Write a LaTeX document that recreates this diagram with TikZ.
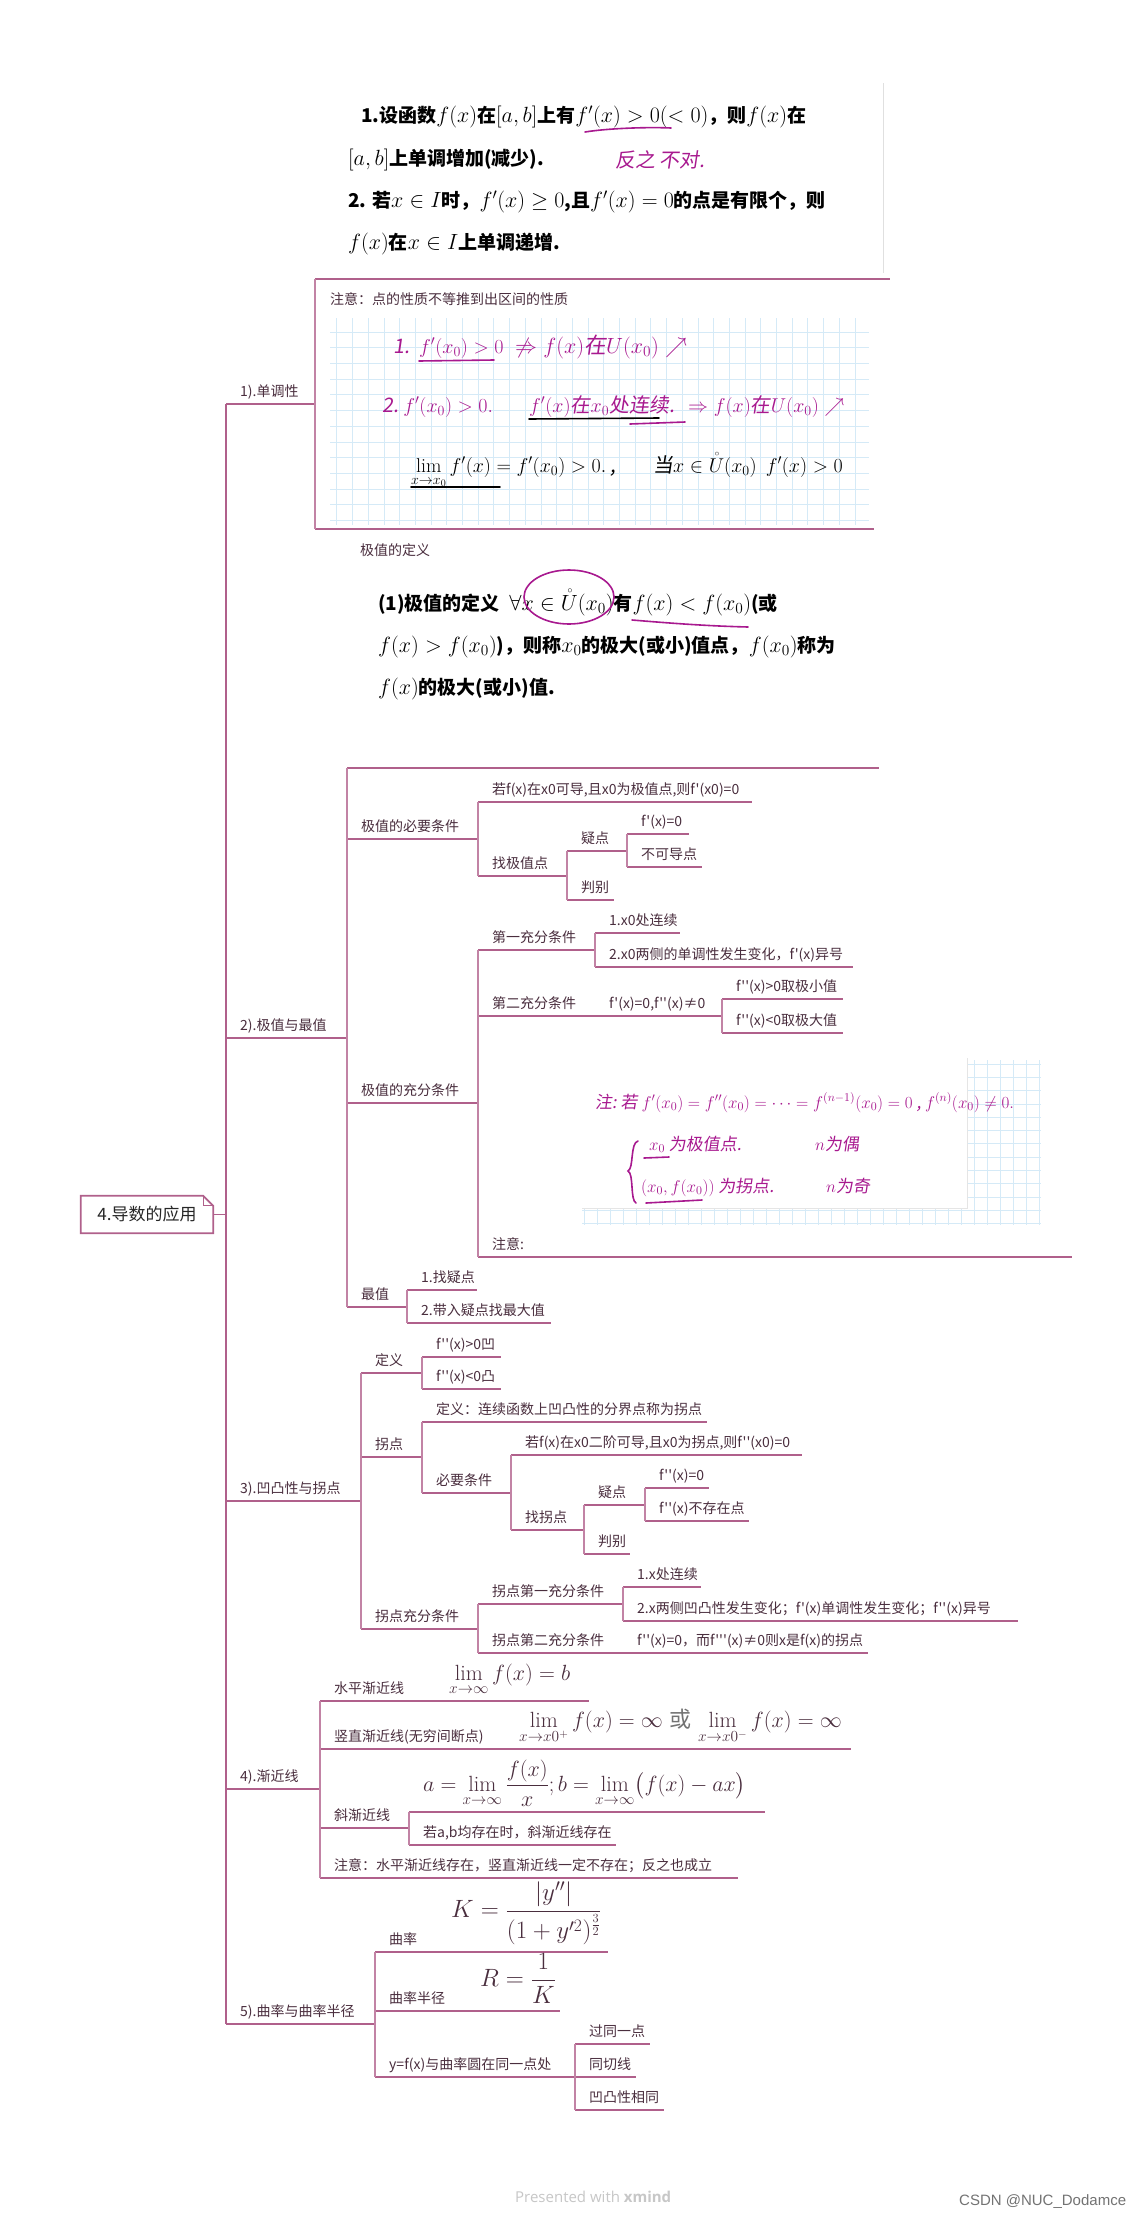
\RequirePackage{fix-cm}
\documentclass[tikz,border=0pt]{standalone}
\usepackage{amsmath,amssymb}
\usepackage{fontspec}
\newfontfamily\zh{Noto Sans CJK SC}
\newfontfamily\hw{Noto Sans CJK SC}[FakeSlant=0.15]
\newfontfamily\ftA{Open Sans}
\newfontfamily\ftB{Liberation Sans}
\definecolor{lncol}{HTML}{B0608B}
\definecolor{cncol}{HTML}{C283A5}
\definecolor{txtcol}{HTML}{4A2E3E}
\definecolor{mag}{HTML}{A8198F}
\definecolor{gridcol}{HTML}{D5EAF7}
\newcommand\M[1]{{\fontsize{22}{26}\selectfont$#1$}}
\newcommand\tp[6][]{%
  \coordinate (#2L) at (#3,#5);
  \coordinate (#2R) at (#4,#5);
  \draw[lnk] (#2L) -- (#2R);
  \node[lbl,#1] (#2) at ([xshift=14pt,yshift=8pt]#2L) {#6};
}
\begin{document}
\begin{tikzpicture}[x=1pt,y=-1pt,
  lnk/.style={draw=lncol,line width=1.7pt},
  conn/.style={draw=cncol,line width=1.7pt},
  lbl/.style={anchor=base west,inner sep=0pt,text=txtcol,font=\zh\fontsize{14}{17}\selectfont},
  fml/.style={anchor=south west,inner sep=0pt,text=txtcol,font=\fontsize{22}{26}\selectfont},
  img/.style={anchor=base west,inner sep=0pt,text=black,font=\zh\bfseries\fontsize{19}{23}\selectfont},
  hand/.style={anchor=base west,inner sep=0pt,text=mag,font=\hw\fontsize{20}{24}\selectfont},
  hl/.style={draw=mag,line width=1.6pt,line cap=round},
  bl/.style={draw=black,line width=1.6pt,line cap=round},
  grd/.style={draw=gridcol,line width=0.8pt},
  rootbox/.style={minimum width=132pt,minimum height=37pt,inner sep=0pt,text=black!85,font=\zh\fontsize{17}{20}\selectfont}]
\fill[white] (0,0) rectangle (1148,2230);
\useasboundingbox (0,0) rectangle (1148,2230);

% root
\node[rootbox] (r) at (147,1214.5) {4.导数的应用};
\draw[lnk] (r.north west) -- ([xshift=-10pt]r.north east) -- ([yshift=-10pt]r.north east) -- (r.south east) -- (r.south west) -- cycle;
\draw[draw=lncol,line width=1pt] ([xshift=-10pt]r.north east) |- ([yshift=-10pt]r.north east);

% ---------- 1) ----------
\tp{t1}{226}{315}{404}{1).单调性}
\coordinate (c11L) at (315,279); \coordinate (c11R) at (890,279);
\draw[lnk] (c11L) -- (c11R);
\draw[draw=black!12,line width=1pt] (883,83) -- (883,273);
\node[img] (i11) at (361,122) {1.设函数\M{f(x)}在\M{[a,b]}上有\M{f'(x)>0(<0)}，则\M{f(x)}在};
\node[img] (i12) at (348,165) {\M{[a,b]}上单调增加(减少).};
\node[img] (i13) at (348,207) {2. 若\M{x\in I}时，\M{f'(x)\geq 0},且\M{f'(x)=0}的点是有限个，则};
\node[img] (i14) at (348,249) {\M{f(x)}在\M{x\in I}上单调递增.};
\draw[hl] (585,132) .. controls (610,128) and (650,127) .. (671,128);
\node[hand] (h11) at (615,167) {反之\ 不对.};

\coordinate (c12L) at (315,529); \coordinate (c12R) at (874,529);
\draw[lnk] (c12L) -- (c12R);
\node[lbl] (n12) at (330,304) {注意：点的性质不等推到出区间的性质};
\foreach \i in {0,...,33} \draw[grd] ({336.8+15.7*\i},318) -- ({336.8+15.7*\i},525);
\foreach \j in {0,...,12} \draw[grd] (330,{332+15.7*\j}) -- (869,{332+15.7*\j});
\node[hand] (h121a) at (393,353) {1.};
\node[hand] (h121b) at (419,353) {$f'(x_0)>0$};
\node[hand,font=\hw\fontsize{22}{26}\selectfont] (h121c) at (515,353) {$\not\Rightarrow f(x)$在$U(x_0)\nearrow$};
\draw[hl] (419,361) -- (494,360);
\node[hand] (h122a) at (382,412) {2.\ $f'(x_0)>0.$};
\node[hand] (h122b) at (529,412) {$f'(x)$在$x_0$处连续.};
\node[hand] (h122c) at (688,412) {$\Rightarrow f(x)$在$U(x_0)\nearrow$};
\draw[bl] (529,419) -- (659,418);
\draw[hl] (630,424) -- (685,422);
\node[hand,text=black] (h123a) at (411,472) {$\lim\limits_{x\to x_0}f'(x)=f'(x_0)>0.$\ ,};
\node[hand,text=black] (h123b) at (653,472) {当$x\in\mathring{U}(x_0)$\ \ $f'(x)>0$};
\draw[bl] (411,487) -- (500,487);

\draw[conn] (t1R) |- (c11L);
\draw[conn] (t1R) |- (c12L);

% ---------- 2) ----------
\tp{t2}{226}{347}{1038}{2).极值与最值}
\coordinate (c21L) at (347,768); \coordinate (c21R) at (879,768);
\draw[lnk] (c21L) -- (c21R);
\node[lbl] (n21) at (360,555) {极值的定义};
\node[img] (i21) at (378,610) {(1)极值的定义\enspace \M{\forall x\in\mathring{U}(x_0)}有\M{f(x)<f(x_0)}(或};
\node[img] (i22) at (378,652) {\M{f(x)>f(x_0)})，则称\M{x_0}的极大(或小)值点，\M{f(x_0)}称为};
\node[img] (i23) at (378,694) {\M{f(x)}的极大(或小)值.};
\draw[hl] (569,597) ellipse [x radius=45pt, y radius=27pt];
\draw[hl] (632,620) .. controls (680,624) and (710,626) .. (748,627);

\tp{c22}{347}{478}{839}{极值的必要条件}
\tp{c221}{478}{752}{802}{若f(x)在x0可导,且x0为极值点,则f'(x0)=0}
\tp{c222}{478}{567}{876}{找极值点}
\tp{c2221}{567}{627}{851}{疑点}
\tp{c22211}{627}{689}{834}{f'(x)=0}
\tp{c22212}{627}{702}{867}{不可导点}
\tp{c2222}{567}{614}{900}{判别}
\tp{c23}{347}{478}{1103}{极值的充分条件}
\tp{c231}{478}{595}{950}{第一充分条件}
\tp{c2311}{595}{680}{933}{1.x0处连续}
\tp{c2312}{595}{853}{967}{2.x0两侧的单调性发生变化，f'(x)异号}
\tp{c232}{478}{595}{1016}{第二充分条件}
\tp{c2321}{595}{722}{1016}{f'(x)=0,f''(x)≠0}
\tp{c23211}{722}{843}{999}{f''(x)>0取极小值}
\tp{c23212}{722}{843}{1033}{f''(x)<0取极大值}
\tp{c233}{478}{1072}{1257}{注意:}
\tp{c24}{347}{407}{1307}{最值}
\tp{c241}{407}{477}{1290}{1.找疑点}
\tp{c242}{407}{551}{1323}{2.带入疑点找最大值}

% handwriting image of 注意
\foreach \i in {0,...,35} \draw[grd] ({584+13*\i},1060) -- ({584+13*\i},1225);
\foreach \j in {0,...,12} \draw[grd] (582,{1064+13.3*\j}) -- (1041,{1064+13.3*\j});
\fill[white] (582,1058) rectangle (967,1208);
\draw[draw=black!10,line width=0.8pt] (582,1208) -- (967,1208) -- (967,1058);
\node[hand,font=\hw\fontsize{17}{20}\selectfont] (h231) at (595,1108) {注:\ 若\ $f'(x_0)=f''(x_0)=\cdots=f^{(n-1)}(x_0)=0$\ ,\ $f^{(n)}(x_0)\neq0.$};
\draw[hl] (638,1141) .. controls (630,1143) and (634,1168) .. (628,1171) .. controls (634,1174) and (630,1200) .. (636,1203);
\node[hand,font=\hw\fontsize{17}{20}\selectfont] (h232) at (649,1150) {$x_0$\ 为极值点.};
\node[hand,font=\hw\fontsize{17}{20}\selectfont] (h233) at (815,1150) {$n$为偶};
\draw[hl] (644,1158) -- (669,1157);
\node[hand,font=\hw\fontsize{17}{20}\selectfont] (h234) at (641,1192) {$(x_0,f(x_0))$\ 为拐点.};
\node[hand,font=\hw\fontsize{17}{20}\selectfont] (h235) at (826,1192) {$n$为奇};
\draw[hl] (646,1203) -- (702,1200);

\draw[conn] (t2R) |- (c21L);
\draw[conn] (t2R) |- (c22L);
\draw[conn] (t2R) |- (c23L);
\draw[conn] (t2R) |- (c24L);
\draw[conn] (c22R) |- (c221L);
\draw[conn] (c22R) |- (c222L);
\draw[conn] (c222R) |- (c2221L);
\draw[conn] (c222R) |- (c2222L);
\draw[conn] (c2221R) |- (c22211L);
\draw[conn] (c2221R) |- (c22212L);
\draw[conn] (c23R) |- (c231L);
\draw[conn] (c23R) |- (c232L);
\draw[conn] (c23R) |- (c233L);
\draw[conn] (c231R) |- (c2311L);
\draw[conn] (c231R) |- (c2312L);
\draw[conn] (c2321R) |- (c23211L);
\draw[conn] (c2321R) |- (c23212L);
\draw[conn] (c24R) |- (c241L);
\draw[conn] (c24R) |- (c242L);

% ---------- 3) ----------
\tp{t3}{226}{361}{1501}{3).凹凸性与拐点}
\tp{c31}{361}{422}{1373}{定义}
\tp{c311}{422}{501}{1357}{f''(x)>0凹}
\tp{c312}{422}{501}{1389}{f''(x)<0凸}
\tp{c32}{361}{422}{1457}{拐点}
\tp{c321}{422}{707}{1422}{定义：连续函数上凹凸性的分界点称为拐点}
\tp{c322}{422}{511}{1493}{必要条件}
\tp{c3221}{511}{802}{1455}{若f(x)在x0二阶可导,且x0为拐点,则f''(x0)=0}
\tp{c3222}{511}{584}{1530}{找拐点}
\tp{c32221}{584}{645}{1505}{疑点}
\tp{c322211}{645}{709}{1488}{f''(x)=0}
\tp{c322212}{645}{749}{1521}{f''(x)不存在点}
\tp{c32222}{584}{630}{1554}{判别}
\tp{c33}{361}{478}{1629}{拐点充分条件}
\tp{c331}{478}{623}{1604}{拐点第一充分条件}
\tp{c3311}{623}{701}{1587}{1.x处连续}
\tp{c3312}{623}{1018}{1621}{2.x两侧凹凸性发生变化；f'(x)单调性发生变化；f''(x)异号}
\tp{c332}{478}{623}{1653}{拐点第二充分条件}
\tp{c3321}{623}{868}{1653}{f''(x)=0，而f'''(x)≠0则x是f(x)的拐点}

\draw[conn] (t3R) |- (c31L);
\draw[conn] (t3R) |- (c32L);
\draw[conn] (t3R) |- (c33L);
\draw[conn] (c31R) |- (c311L);
\draw[conn] (c31R) |- (c312L);
\draw[conn] (c32R) |- (c321L);
\draw[conn] (c32R) |- (c322L);
\draw[conn] (c322R) |- (c3221L);
\draw[conn] (c322R) |- (c3222L);
\draw[conn] (c3222R) |- (c32221L);
\draw[conn] (c3222R) |- (c32222L);
\draw[conn] (c32221R) |- (c322211L);
\draw[conn] (c32221R) |- (c322212L);
\draw[conn] (c33R) |- (c331L);
\draw[conn] (c33R) |- (c332L);
\draw[conn] (c331R) |- (c3311L);
\draw[conn] (c331R) |- (c3312L);

% ---------- 4) ----------
\tp{t4}{226}{320}{1789}{4).渐近线}
\tp{c41}{320}{435}{1701}{水平渐近线}
\tp[fml,yshift=-3pt]{c411}{435}{589}{1701}{$\displaystyle\lim_{x\to\infty}f(x)=b$}
\tp{c42}{320}{505}{1749}{竖直渐近线(无穷间断点)}
\tp[fml,yshift=-3pt]{c421}{505}{851}{1749}{$\displaystyle\lim_{x\to x0^+}f(x)=\infty$ {\color{black!55}\zh 或} $\displaystyle\lim_{x\to x0^-}f(x)=\infty$}
\tp{c43}{320}{409}{1828}{斜渐近线}
\tp[fml,yshift=-3pt]{c431}{409}{765}{1812}{$\displaystyle a=\lim_{x\to\infty}\frac{f(x)}{x};b=\lim_{x\to\infty}\bigl(f(x)-ax\bigr)$}
\tp{c432}{409}{616}{1845}{若a,b均存在时，斜渐近线存在}
\tp{c44}{320}{738}{1878}{注意：水平渐近线存在，竖直渐近线一定不存在；反之也成立}

\draw[conn] (t4R) |- (c41L);
\draw[conn] (t4R) |- (c42L);
\draw[conn] (t4R) |- (c43L);
\draw[conn] (t4R) |- (c44L);
\draw[conn] (c43R) |- (c431L);
\draw[conn] (c43R) |- (c432L);

% ---------- 5) ----------
\tp{t5}{226}{375}{2024}{5).曲率与曲率半径}
\tp{c51}{375}{437}{1952}{曲率}
\tp[fml,yshift=-1pt,font=\fontsize{25}{30}\selectfont]{c511}{437}{608}{1952}{$K=\dfrac{|y''|}{(1+y'^2)^{\frac{3}{2}}}$}
\tp{c52}{375}{466}{2011}{曲率半径}
\tp[fml,yshift=-1pt,font=\fontsize{25}{30}\selectfont]{c521}{466}{560}{2011}{$R=\dfrac{1}{K}$}
\tp{c53}{375}{575}{2077}{y=f(x)与曲率圆在同一点处}
\tp{c531}{575}{650}{2044}{过同一点}
\tp{c532}{575}{636}{2077}{同切线}
\tp{c533}{575}{664}{2110}{凹凸性相同}

\draw[conn] (t5R) |- (c51L);
\draw[conn] (t5R) |- (c52L);
\draw[conn] (t5R) |- (c53L);
\draw[conn] (c53R) |- (c531L);
\draw[conn] (c53R) |- (c532L);
\draw[conn] (c53R) |- (c533L);

% root connectors
\draw[lnk] (r.east) -| (t1L);
\draw[lnk] (r.east) -| (t2L);
\draw[lnk] (r.east) -| (t3L);
\draw[lnk] (r.east) -| (t4L);
\draw[lnk] (r.east) -| (t5L);

% footer
\node[anchor=base west,inner sep=0pt,text=black!22,font=\ftA\fontsize{15}{18}\selectfont] (ft1) at (515,2202) {Presented with \textbf{xmind}};
\node[anchor=base west,inner sep=0pt,text=black!55,font=\ftB\fontsize{15}{18}\selectfont] (ft2) at (959,2205) {CSDN @NUC\_Dodamce};
\end{tikzpicture}
\end{document}
